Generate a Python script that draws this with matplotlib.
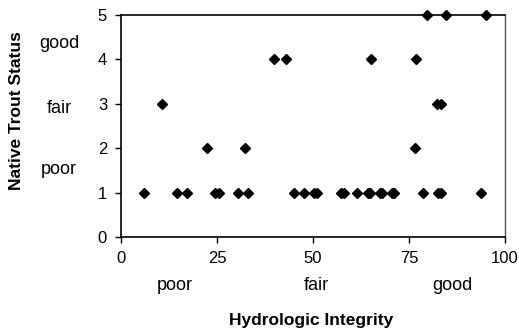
import matplotlib
matplotlib.use("Agg")
import matplotlib.pyplot as plt

plt.rcParams['font.family'] = ['Liberation Sans', 'DejaVu Sans']

# Hydrologic integrity (x) and native trout status (y)
x1 = [6.0, 14.6, 17.2, 24.6, 25.4, 30.4, 33.0, 45.0, 47.6, 50.2, 51.0, 57.2, 58.0,
      61.4, 64.3, 64.8, 67.4, 67.9, 70.5, 71.0, 78.6, 82.5, 83.3, 93.7]
x2 = [22.3, 32.3, 76.6]
x3 = [10.8, 82.2, 83.4]
x4 = [39.9, 42.9, 65.0, 76.9]
x5 = [79.6, 84.6, 95.1]
xs = x1 + x2 + x3 + x4 + x5
ys = [1]*len(x1) + [2]*len(x2) + [3]*len(x3) + [4]*len(x4) + [5]*len(x5)

x_ticks = [0, 25, 50, 75, 100]
y_ticks = [0, 1, 2, 3, 4, 5]
x_cat = ["poor", "fair", "good"]
y_cat = ["poor", "fair", "good"]

W, H = 519, 332
fig = plt.figure(figsize=(W/100, H/100), dpi=100)
ax = fig.add_axes([121/W, 1-237/H, (505-121)/W, (237-15)/H])
ax.plot(xs, ys, linestyle='none', marker='D', markersize=5.0, color='black', clip_on=False, zorder=3)
ax.set_xlim(0, 100)
ax.set_ylim(0, 5)
ax.set_xticks(x_ticks)
ax.set_yticks(y_ticks)
ax.tick_params(direction='out', length=4, width=1, labelsize=12, pad=6, colors='black')
for s in ['left', 'bottom', 'top']:
    ax.spines[s].set_linewidth(1.2)
    ax.spines[s].set_color('black')
ax.spines['right'].set_linewidth(1.0)
ax.spines['right'].set_color('#555555')

# category labels
for lbl, px in zip(x_cat, [175, 316, 452]):
    fig.text(px/W, 1-286/H, lbl, ha='center', va='center', fontsize=13)
for lbl, py in zip(y_cat[::-1], [43, 108, 170]):
    fig.text(59/W, 1-py/H, lbl, ha='center', va='center', fontsize=13)

fig.text(311/W, 1-320/H, "Hydrologic Integrity", ha='center', va='center', fontsize=12.5, fontweight='bold')
fig.text(17/W, 1-111/H, "Native Trout Status", ha='center', va='center', rotation=90, fontsize=12.5, fontweight='bold')

fig.savefig("out.png", dpi=100)
